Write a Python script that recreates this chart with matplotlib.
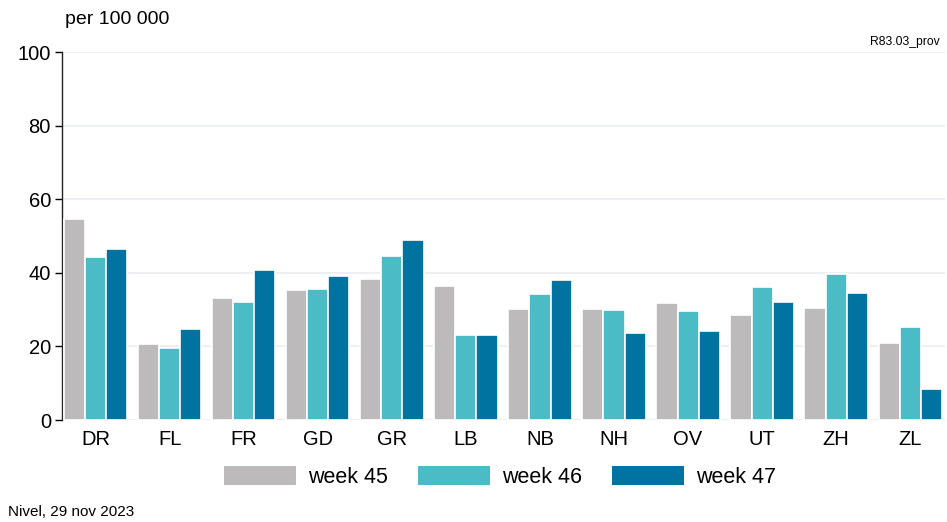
import matplotlib
matplotlib.use("Agg")
import matplotlib.pyplot as plt
import numpy as np

plt.rcParams['font.family'] = ['Liberation Sans', 'DejaVu Sans']

categories = ["DR", "FL", "FR", "GD", "GR", "LB", "NB", "NH", "OV", "UT", "ZH", "ZL"]
week45 = [54.5, 20.6, 33.2, 35.2, 38.2, 36.3, 30.2, 30.2, 31.8, 28.5, 30.4, 20.9]
week46 = [44.4, 19.6, 32.0, 35.6, 44.6, 23.1, 34.2, 29.9, 29.6, 36.1, 39.7, 25.3]
week47 = [46.5, 24.7, 40.8, 39.0, 48.8, 23.1, 38.0, 23.6, 24.2, 32.1, 34.5, 8.4]
series_labels = ["week 45", "week 46", "week 47"]
colors = ["#bcbabb", "#4bbcc6", "#0073a1"]
yticks = [0, 20, 40, 60, 80, 100]

W, H = 947, 522
fig = plt.figure(figsize=(W / 100, H / 100), dpi=100)
ax = fig.add_axes([62 / W, 1 - 420 / H, (945 - 62) / W, (420 - 52) / H])

x = np.arange(len(categories))
pitch = 0.285
bw = 0.285
for i, (vals, lab, c) in enumerate(zip([week45, week46, week47], series_labels, colors)):
    ax.bar(x + (i - 1) * pitch, vals, width=bw, color=c, edgecolor="white",
           linewidth=1.2, label=lab, zorder=3)

ax.set_xlim(-0.455, 11.47)
ax.set_ylim(0, 100)
ax.set_yticks(yticks)
ax.set_xticks(x)
ax.set_xticklabels(categories, fontsize=14.5)
ax.tick_params(axis="x", length=0, pad=7)
ax.tick_params(axis="y", length=5, width=1, labelsize=14.5, pad=3, direction="out")
ax.grid(axis="y", color="#e9eef1", linewidth=1.2, zorder=0)
for s in ["top", "right", "bottom"]:
    ax.spines[s].set_visible(False)
ax.spines["left"].set_color("#222222")
ax.spines["left"].set_linewidth(1)

fig.text(65 / W, 1 - 19 / H, "per 100 000", fontsize=14, ha="left", va="center")
fig.text(940 / W, 1 - 42 / H, "R83.03_prov", fontsize=8.7, ha="right", va="center")
fig.text(8 / W, 1 - 512 / H, "Nivel, 29 nov 2023", fontsize=11, ha="left", va="center")

handles, labels = ax.get_legend_handles_labels()
leg = fig.legend(handles, labels, loc="center", bbox_to_anchor=(500 / W, 1 - 477 / H),
                 ncol=3, frameon=False, fontsize=15.5, handlelength=3.35, handleheight=0.93,
                 handletextpad=0.55, columnspacing=1.4)
for p in leg.get_patches():
    p.set_edgecolor("none")

fig.savefig("out.png", dpi=100)
